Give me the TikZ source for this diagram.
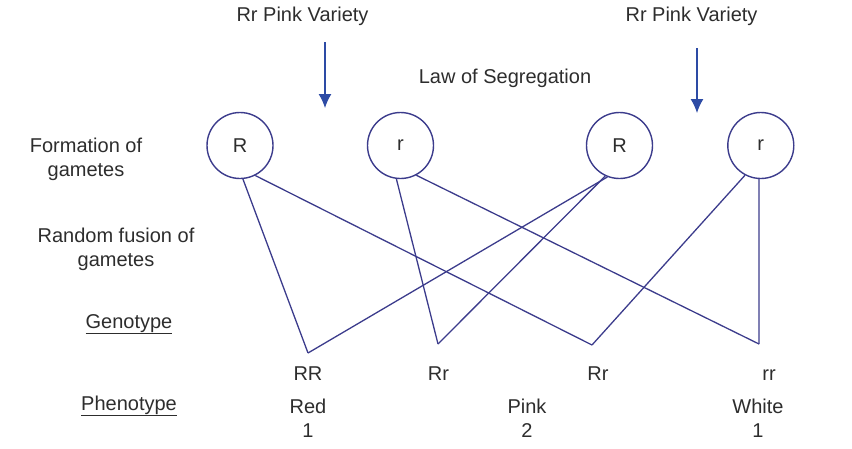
\documentclass[tikz,border=0pt]{standalone}
\usepackage{fontspec}
\setmainfont{Liberation Sans}
\usetikzlibrary{arrows.meta}
\definecolor{linec}{RGB}{60,60,140}
\definecolor{arrc}{RGB}{45,75,165}
\definecolor{txtc}{RGB}{45,45,45}
\begin{document}
\begin{tikzpicture}[x=1pt,y=-1pt,
  lbl/.style={text=txtc,font=\fontsize{20}{24}\selectfont,inner sep=0pt},
  blbl/.style={lbl,anchor=base},
  gam/.style={circle,draw=linec,line width=1.4pt,minimum size=66pt,inner sep=0pt,text=txtc,font=\fontsize{20}{24}\selectfont},
  link/.style={draw=linec,line width=1.3pt},
  downarr/.style={draw=arrc,line width=1.3pt,-{Latex[length=14pt,width=13pt]}}]
\useasboundingbox (0,0) rectangle (852,448);
% titles
\node[blbl] (t1) at (302.5,21) {Rr Pink Variety};
\node[blbl] (t2) at (691.5,21) {Rr Pink Variety};
\node[blbl] (law) at (505,83) {Law of Segregation};
% arrows
\coordinate (a1s) at (325,42);
\coordinate (a1e) at (325,108);
\coordinate (a2s) at (697,48);
\coordinate (a2e) at (697,113);
\draw[downarr] (a1s) -- (a1e);
\draw[downarr] (a2s) -- (a2e);
% left labels
\node[lbl,align=center] (form) at (86,159) {Formation of\\gametes};
\node[lbl,align=center] (fus) at (116,249) {Random fusion of\\gametes};
\node[blbl] (geno) at (129,328) {\underline{Genotype}};
\node[blbl] (pheno) at (129,410) {\underline{Phenotype}};
% gametes
\node[gam] (R1) at (240,145.5) {R};
\node[gam] (r1) at (400.5,145.5) {r};
\node[gam] (R2) at (619.5,145.5) {R};
\node[gam] (r2) at (760.8,145.5) {r};
% fusion vertices
\coordinate (vRR) at (308,353);
\coordinate (vRr1) at (438,344);
\coordinate (vRr2) at (592,345);
\coordinate (vrr) at (759,344);
\draw[link] (R1.-85) -- (vRR);
\draw[link] (R1.-63) -- (vRr2);
\draw[link] (r1.-97) -- (vRr1);
\draw[link] (r1.-62) -- (vrr);
\draw[link] (R2.-111) -- (vRR);
\draw[link] (R2.-115) -- (vRr1);
\draw[link] (r2.-118) -- (vRr2);
\draw[link] (r2.-93) -- (vrr);
% genotypes
\node[blbl] (gRR) at (308,380) {RR};
\node[blbl] (gRr1) at (438.5,380) {Rr};
\node[blbl] (gRr2) at (598,380) {Rr};
\node[blbl] (grr) at (769,380) {rr};
% phenotypes
\node[blbl] (pRed) at (308,413) {Red};
\node[blbl] (pPink) at (527,413) {Pink};
\node[blbl] (pWhite) at (758,413) {White};
\node[blbl] (n1) at (308,437) {1};
\node[blbl] (n2) at (527,437) {2};
\node[blbl] (n3) at (758,437) {1};
\end{tikzpicture}
\end{document}
